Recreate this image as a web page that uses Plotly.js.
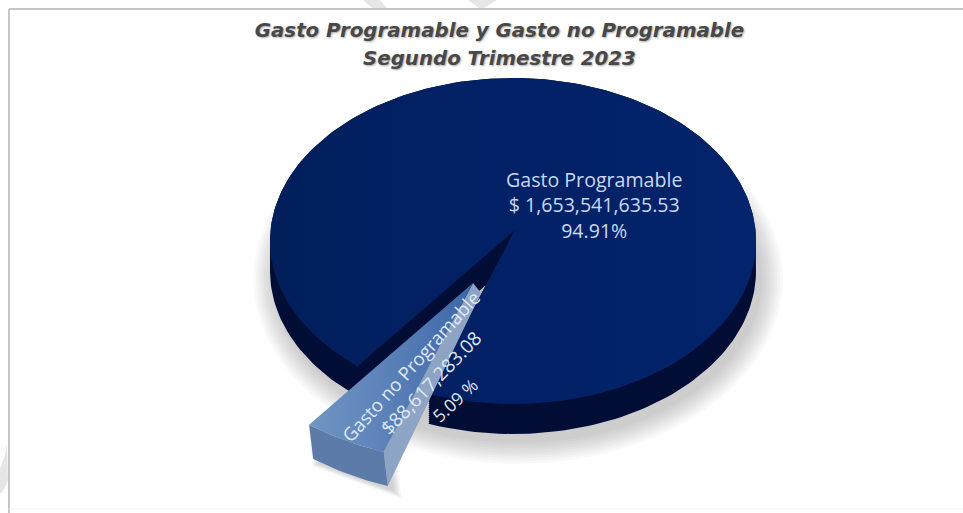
<!DOCTYPE html>
<html><head><meta charset="utf-8">
<script src="https://cdn.plot.ly/plotly-3.0.1.min.js"></script>
<style>html,body{margin:0;padding:0;background:#fff}</style></head>
<body><div id="chart" style="width:963px;height:513px"></div>
<script>
const categories = ["Gasto Programable", "Gasto no Programable"];
const amounts = [1653541635.53, 88617283.08];
const amountLabels = ["$ 1,653,541,635.53", "$88,617,283.08"];
const shareLabels = ["94.91%", "5.09 %"];
const titleLines = ["Gasto Programable y Gasto no Programable", "Segundo Trimestre 2023"];

// pie drawing geometry (axes are in page pixels)
const ELL = {x:513, y:241, rx:243, ry:163};
const HUB = {x:515, y:230};
const DEPTH = 30;
const SLICE_START = 199.5;        // clock angle of the smaller slice's first edge
const TIP = {x:473, y:283};
const NEAR = 1.10;                // the pulled-out slice sits closer to the viewer
const total = amounts[0] + amounts[1];
const sweep = 360 * amounts[1] / total;
const SLICE_END = SLICE_START + sweep;
const rad = d => d * Math.PI / 180;

function onEllipse(t){ return [ELL.x + ELL.rx*Math.sin(rad(t)), ELL.y - ELL.ry*Math.cos(rad(t))]; }
function rayHit(a){
  const dx = ELL.rx*Math.sin(rad(a)), dy = -ELL.ry*Math.cos(rad(a));
  const ox = (HUB.x-ELL.x)/ELL.rx, oy = (HUB.y-ELL.y)/ELL.ry, ux = dx/ELL.rx, uy = dy/ELL.ry;
  const A = ux*ux+uy*uy, B = 2*(ox*ux+oy*uy), C = ox*ox+oy*oy-1;
  const s = (-B+Math.sqrt(B*B-4*A*C))/(2*A);
  const hx = (HUB.x+s*dx-ELL.x)/ELL.rx, hy = (HUB.y+s*dy-ELL.y)/ELL.ry;
  return Math.atan2(hx,-hy)*180/Math.PI;
}
function mainFace(shiftY){
  let t0 = rayHit(SLICE_END), t1 = rayHit(SLICE_START);
  while(t0<0) t0+=360; while(t1<t0) t1+=360;
  const xs=[HUB.x], ys=[HUB.y+shiftY];
  for(let i=0;i<=240;i++){ const p=onEllipse(t0+(t1-t0)*i/240); xs.push(p[0]); ys.push(p[1]+shiftY); }
  xs.push(HUB.x); ys.push(HUB.y+shiftY);
  return [xs,ys];
}
function wedgePoint(a){ return [TIP.x+NEAR*ELL.rx*Math.sin(rad(a)), TIP.y-NEAR*ELL.ry*Math.cos(rad(a))]; }
const FRONT = {dx:4, dy:34}, TIP2 = {dx:8, dy:10};
function poly(xs,ys,color,extra){ return Object.assign({x:xs,y:ys,mode:'lines',fill:'toself',fillcolor:color,line:{width:0},hoverinfo:'skip',showlegend:false,type:'scatter'},extra||{}); }

const traces = [];
const wl = wedgePoint(SLICE_END), wr = wedgePoint(SLICE_START);
// soft shadows
for(let i=0;i<9;i++){
  const xs=[],ys=[];
  for(let t=0;t<=360;t+=3){ xs.push(ELL.x+5+(ELL.rx+1+i*2.6)*Math.sin(rad(t))); ys.push(ELL.y+38+(ELL.ry+1+i*2.6)*Math.cos(rad(t))); }
  traces.push(poly(xs,ys,'rgba(90,90,90,0.035)'));
}
{
  const px=[TIP.x,wl[0],wl[0]+FRONT.dx,wr[0]+FRONT.dx,wr[0],TIP.x];
  const py=[TIP.y,wl[1],wl[1]+FRONT.dy,wr[1]+FRONT.dy,wr[1],TIP.y];
  const cx=(wl[0]+wr[0])/2, cy=(wl[1]+wr[1])/2+FRONT.dy/2-10;
  for(let i=0;i<8;i++){
    const g=1+i*0.028;
    traces.push(poly(px.map(v=>cx+(v-cx)*g+6),py.map(v=>cy+(v-cy)*g+5),'rgba(90,90,90,0.04)'));
  }
}
// body of the large slice: the face swept down through the depth
{
  const sx=[],sy=[];
  for(let d=0;d<=DEPTH;d+=2){ const f=mainFace(d); if(sx.length){sx.push(null);sy.push(null);} sx.push(...f[0]); sy.push(...f[1]); }
  traces.push(poly(sx,sy,'#010d35'));
}
// face of the large slice
{
  const f=mainFace(0);
  traces.push(poly(f[0],f[1],'#02226a',{fillgradient:{type:'horizontal',colorscale:[[0,'#021f5c'],[0.45,'#022065'],[1,'#02246c']]}}));
}
// pulled-out slice
const ax=[],ay=[];
for(let i=0;i<=20;i++){ const p=wedgePoint(SLICE_START+sweep*i/20); ax.push(p[0]); ay.push(p[1]); }
// right side face
traces.push(poly([TIP.x,wr[0],wr[0]+FRONT.dx,TIP.x+TIP2.dx,TIP.x],
                 [TIP.y,wr[1],wr[1]+FRONT.dy,TIP.y+TIP2.dy,TIP.y],'#8ea4c4'));
// outer rim face
traces.push(poly(ax.concat(ax.slice().reverse().map(v=>v+FRONT.dx)).concat([ax[0]]),
                 ay.concat(ay.slice().reverse().map(v=>v+FRONT.dy)).concat([ay[0]]),'#5c7ba8'));
// top face
traces.push(poly([TIP.x].concat(ax,[TIP.x]),[TIP.y].concat(ay,[TIP.y]),'#5f86bd',
  {fillgradient:{type:'horizontal',colorscale:[[0,'#7096c4'],[0.5,'#5a80b8'],[1,'#3d66a6']]}}));

const LIGHT='#c9d8f2', WL='#dfe8f6', FONT='"Open Sans", sans-serif', TF='"DejaVu Sans", sans-serif';
const note=(x,y,text,size,color,angle)=>({x,y,xref:'x',yref:'y',text,showarrow:false,textangle:angle||0,xanchor:'center',yanchor:'middle',font:{family:FONT,size,color}});
const titleFont={family:TF,size:19.8,color:'#484848',weight:'bold',style:'italic',shadow:'1px 1px 2px #aaa'};
const annotations=[
  note(594,205,[categories[0],amountLabels[0],shareLabels[0]].join('<br>'),19.6,LIGHT),
  note(410,366,categories[1],18.6,WL,-48),
  note(431,383,amountLabels[1],19,WL,-46),
  note(455,400,shareLabels[1],17.5,WL,-43),
  {xref:'paper',yref:'paper',x:0.5187,y:1-59/513,text:titleLines[1],showarrow:false,xanchor:'center',yanchor:'middle',font:titleFont}
];
const frame='#c6c6c6', mark='#e6e6e6';
const stain=(path)=>({type:'path',xref:'x',yref:'y',path,fillcolor:mark,line:{width:0},layer:'below'});
const layout={
  width:963,height:513,margin:{l:0,r:0,t:0,b:0},paper_bgcolor:'#fff',plot_bgcolor:'#fff',showlegend:false,
  title:{text:titleLines[0],x:0.5187,xanchor:'center',y:1-30/513,yanchor:'middle',font:titleFont},
  xaxis:{range:[0,963],visible:false,fixedrange:true},
  yaxis:{range:[513,0],visible:false,fixedrange:true},
  annotations,
  shapes:[
    stain('M363,0 L380,0 L387,8 L372,8 Z'),
    stain('M468,0 L497,0 L484,8 L479,8 Z'),
    stain('M7,443 Q5,458 0,468 L0,494 Q5,490 8,480 Z'),
    {type:'line',xref:'x',yref:'y',x0:9,x1:963,y0:9,y1:9,line:{color:frame,width:2},layer:'below'},
    {type:'line',xref:'x',yref:'y',x0:9,x1:9,y0:9,y1:513,line:{color:frame,width:2},layer:'below'},
    {type:'line',xref:'x',yref:'y',x0:9,x1:963,y0:509,y1:509,line:{color:'#f4f4f4',width:1},layer:'below'}
  ]
};
Plotly.newPlot('chart',traces,layout,{staticPlot:true,displayModeBar:false});
</script></body></html>
